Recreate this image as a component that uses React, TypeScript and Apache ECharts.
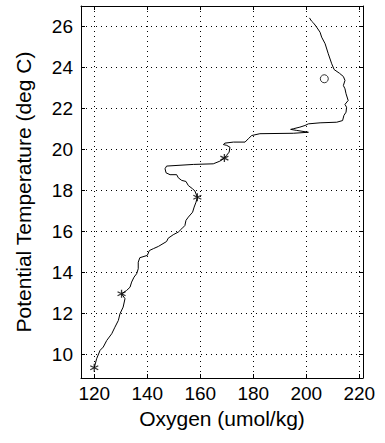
import React, { useEffect, useRef } from "react";
import * as echarts from "echarts";

// Oxygen (umol/kg) vs Potential Temperature (deg C), traced from top to bottom
const oxygen: number[] = [
  201.2, 202.0, 202.8, 203.9, 205.2, 205.8, 207.1, 208.3, 209.6, 210.5,
  212.5, 214.0, 214.6, 214.0, 214.6, 215.0, 215.8, 214.6, 215.2, 215.0,
  214.2, 213.7, 211.5, 205.2, 200.8, 199.5, 197.6, 195.1, 194.1, 196.4,
  200.8, 195.1, 182.5, 179.4, 178.1, 176.9, 172.5, 169.3, 168.7, 170.0,
  171.2, 170.9, 169.9, 169.1, 167.4, 164.9, 157.4, 147.3, 146.7, 147.1,
  148.6, 151.1, 151.7, 153.0, 154.6, 155.5, 157.1, 158.0, 158.9, 158.4,
  157.7, 157.1, 155.5, 154.6, 154.2, 153.0, 151.7, 149.8, 147.9, 147.3,
  144.2, 142.3, 140.8, 140.0, 137.2, 136.6, 136.6, 136.0, 135.0, 134.1,
  133.5, 132.2, 130.3, 131.6, 130.9, 129.7, 129.1, 127.8, 126.6, 124.7,
  123.4, 122.2, 120.9, 120.0,
];
const temperature: number[] = [
  26.42, 26.26, 26.16, 25.97, 25.72, 25.48, 25.16, 24.67, 24.18, 23.9,
  23.72, 23.56, 23.37, 23.12, 22.96, 22.72, 22.39, 22.2, 22.06, 21.82,
  21.66, 21.41, 21.33, 21.3, 21.25, 21.17, 21.09, 21.01, 20.98, 20.93,
  20.84, 20.79, 20.77, 20.68, 20.52, 20.36, 20.36, 20.31, 20.24, 20.2,
  20.11, 19.87, 19.71, 19.58, 19.43, 19.3, 19.27, 19.19, 19.06, 18.86,
  18.77, 18.77, 18.62, 18.49, 18.44, 18.24, 18.08, 17.97, 17.67, 17.43,
  17.19, 16.94, 16.7, 16.54, 16.29, 16.13, 15.97, 15.84, 15.67, 15.51,
  15.27, 15.16, 15.07, 14.83, 14.72, 14.5, 14.18, 13.94, 13.77, 13.53,
  13.28, 13.12, 12.96, 12.72, 12.31, 11.98, 11.66, 11.33, 11.01, 10.68,
  10.36, 10.2, 9.79, 9.35,
];

// Star (asterisk) markers
const starOxygen: number[] = [120.0, 130.3, 158.9, 169.1];
const starTemperature: number[] = [9.35, 12.96, 17.67, 19.58];

// Circle marker
const circleOxygen: number[] = [206.8];
const circleTemperature: number[] = [23.45];

const xName = "Oxygen (umol/kg)";
const yName = "Potential Temperature (deg C)";

const FONT = "'Liberation Sans', Arial, Helvetica, sans-serif";
const ASTERISK = "path://M5,0L5,10M0.67,2.5L9.33,7.5M0.67,7.5L9.33,2.5";

export default function App() {
  const ref = useRef<HTMLDivElement>(null);

  useEffect(() => {
    if (!ref.current) return;
    const chart = echarts.init(ref.current, null, { renderer: "svg" });

    const lineData = oxygen.map((o, i) => [o, temperature[i]]);
    const starData = starOxygen.map((o, i) => [o, starTemperature[i]]);
    const circleData = circleOxygen.map((o, i) => [o, circleTemperature[i]]);

    const xMin = 115;
    const xMax = 221.4;
    const yMin = 8.85;
    const yMax = 27;

    const tickStyle = { show: true, inside: true, length: 4, lineStyle: { color: "#000", width: 1 } };
    const axisLineStyle = { show: true, onZero: false, lineStyle: { color: "#000", width: 1 } };
    const gridLine = { show: true, lineStyle: { color: "#000", width: 1, type: [1, 4] as any } };

    chart.setOption({
      animation: false,
      backgroundColor: "#fff",
      grid: { left: 81, right: 22, top: 6, bottom: 65, containLabel: false },
      xAxis: [
        {
          type: "value",
          min: xMin,
          max: xMax,
          splitNumber: 5,
          position: "bottom",
          name: xName,
          nameLocation: "middle",
          nameGap: 29,
          nameTextStyle: { fontFamily: FONT, fontSize: 21, color: "#000" },
          axisLine: axisLineStyle,
          axisTick: tickStyle,
          axisLabel: {
            fontFamily: FONT,
            fontSize: 19,
            color: "#000",
            margin: 6,
            showMinLabel: false,
            showMaxLabel: false,
          },
          splitLine: gridLine,
        },
        {
          type: "value",
          min: xMin,
          max: xMax,
          splitNumber: 5,
          position: "top",
          axisLine: axisLineStyle,
          axisTick: tickStyle,
          axisLabel: { show: false },
          splitLine: { show: false },
        },
      ],
      yAxis: [
        {
          type: "value",
          min: yMin,
          max: yMax,
          splitNumber: 9,
          position: "left",
          name: yName,
          nameLocation: "middle",
          nameGap: 47,
          nameTextStyle: { fontFamily: FONT, fontSize: 21, color: "#000" },
          axisLine: axisLineStyle,
          axisTick: tickStyle,
          axisLabel: {
            fontFamily: FONT,
            fontSize: 19,
            color: "#000",
            margin: 8,
            showMinLabel: false,
            showMaxLabel: false,
          },
          splitLine: gridLine,
        },
        {
          type: "value",
          min: yMin,
          max: yMax,
          splitNumber: 9,
          position: "right",
          axisLine: axisLineStyle,
          axisTick: tickStyle,
          axisLabel: { show: false },
          splitLine: { show: false },
        },
      ],
      series: [
        {
          type: "line",
          data: lineData,
          xAxisIndex: 0,
          yAxisIndex: 0,
          showSymbol: false,
          symbol: "none",
          lineStyle: { color: "#000", width: 1 },
          z: 3,
        },
        {
          type: "scatter",
          data: starData,
          xAxisIndex: 0,
          yAxisIndex: 0,
          symbol: ASTERISK,
          symbolSize: 8,
          itemStyle: { color: "transparent", borderColor: "#000", borderWidth: 1.3 },
          z: 4,
        },
        {
          type: "scatter",
          data: circleData,
          xAxisIndex: 0,
          yAxisIndex: 0,
          symbol: "circle",
          symbolSize: 8,
          itemStyle: { color: "#fff", borderColor: "#000", borderWidth: 1 },
          z: 4,
        },
      ],
    });

    return () => chart.dispose();
  }, []);

  return (
    <div
      ref={ref}
      style={{ position: "fixed", left: 0, top: 0, width: 385, height: 443, background: "#fff" }}
    />
  );
}
